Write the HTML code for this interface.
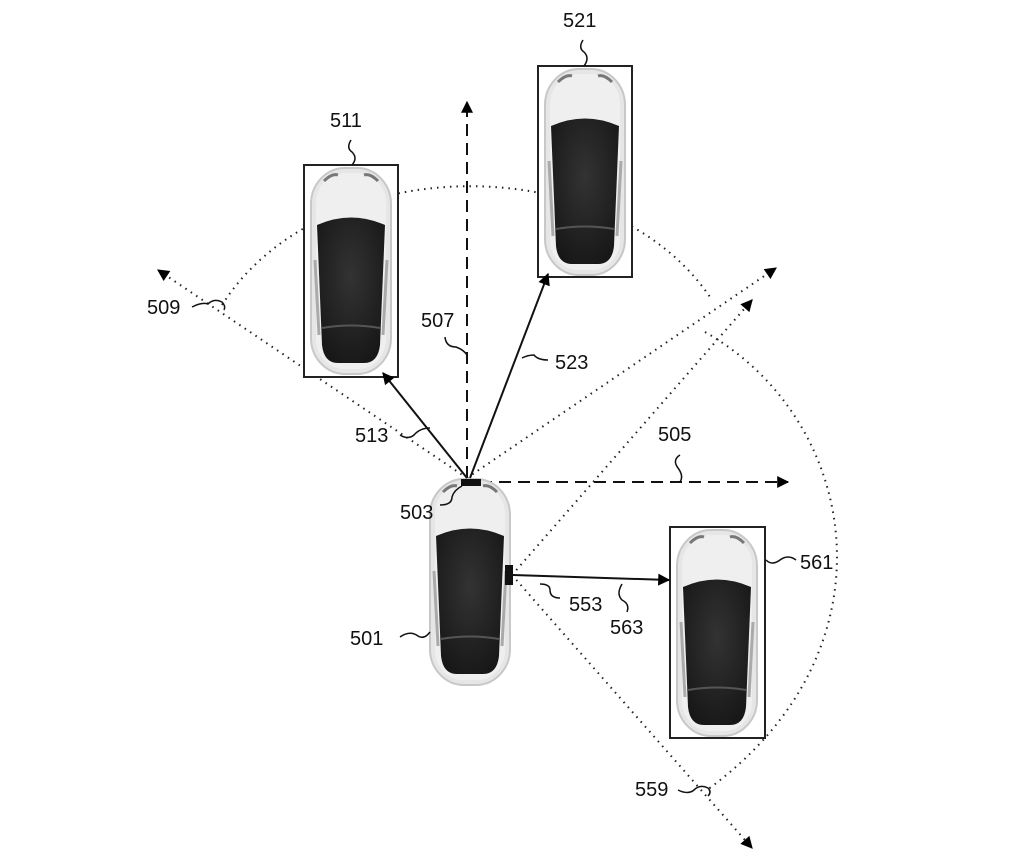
<!DOCTYPE html>
<html><head><meta charset="utf-8"><style>
html,body{margin:0;padding:0;background:#fff}
svg{display:block}
text{font-family:"Liberation Sans",sans-serif;font-size:20px;fill:#111}
</style></head><body>
<svg width="1015" height="863" viewBox="0 0 1015 863" xmlns="http://www.w3.org/2000/svg">
<defs>
<marker id="ah2" viewBox="0 0 10 10" refX="9" refY="5" markerWidth="16" markerHeight="12" orient="auto" markerUnits="userSpaceOnUse"><path d="M0,0 L10,5 L0,10 z" fill="#000"/></marker>
<radialGradient id="cab" cx="0.5" cy="0.4" r="0.7"><stop offset="0" stop-color="#333"/><stop offset="1" stop-color="#151515"/></radialGradient>
<g id="car">
<rect x="7" y="3" width="80" height="206" rx="34" ry="36" fill="#e6e6e6" stroke="#c8c8c8" stroke-width="2"/>
<rect x="12" y="8" width="70" height="196" rx="28" ry="30" fill="#efefef"/>
<path d="M20,16 Q28,8 34,10" stroke="#777" stroke-width="3" fill="none"/>
<path d="M74,16 Q66,8 60,10" stroke="#777" stroke-width="3" fill="none"/>
<path d="M13,60 Q47,45 81,60 L76,180 Q74,198 60,198 L34,198 Q20,198 18,180 Z" fill="url(#cab)"/>
<path d="M18,163 Q47,158 76,163" stroke="#555" stroke-width="2" fill="none"/>
<path d="M11,95 L15,170" stroke="#aaa" stroke-width="3"/>
<path d="M83,95 L79,170" stroke="#aaa" stroke-width="3"/>
</g>
</defs>

<path d="M222,305 C320,150 610,145 712,300" fill="none" stroke="#222" stroke-width="2" stroke-dasharray="1.5,5"/>
<path d="M705,332 C860,420 900,650 707,790" fill="none" stroke="#222" stroke-width="2" stroke-dasharray="1.5,5"/>

<line x1="467" y1="478" x2="158" y2="270" stroke="#222" stroke-width="2" stroke-dasharray="1.5,5" marker-end="url(#ah2)"/>
<line x1="467" y1="478" x2="776" y2="268" stroke="#222" stroke-width="2" stroke-dasharray="1.5,5" marker-end="url(#ah2)"/>
<line x1="512" y1="575" x2="752" y2="300" stroke="#222" stroke-width="2" stroke-dasharray="1.5,5" marker-end="url(#ah2)"/>
<line x1="512" y1="575" x2="752" y2="848" stroke="#222" stroke-width="2" stroke-dasharray="1.5,5" marker-end="url(#ah2)"/>

<line x1="467" y1="478" x2="467" y2="102" stroke="#111" stroke-width="2" stroke-dasharray="12,7" marker-end="url(#ah2)"/>
<line x1="480" y1="482" x2="788" y2="482" stroke="#111" stroke-width="2" stroke-dasharray="12,7" marker-end="url(#ah2)"/>

<rect x="304" y="165" width="94" height="212" fill="#fff" stroke="#222" stroke-width="2"/>
<use href="#car" x="304" y="165"/>
<rect x="538" y="66" width="94" height="211" fill="#fff" stroke="#222" stroke-width="2"/>
<use href="#car" x="538" y="66"/>
<rect x="670" y="527" width="95" height="211" fill="#fff" stroke="#222" stroke-width="2"/>
<use href="#car" x="670" y="527"/>
<use href="#car" x="423" y="476"/>

<line x1="467" y1="478" x2="383" y2="373" stroke="#111" stroke-width="2" marker-end="url(#ah2)"/>
<line x1="470" y1="478" x2="548" y2="274" stroke="#111" stroke-width="2" marker-end="url(#ah2)"/>
<line x1="513" y1="575" x2="669" y2="580" stroke="#111" stroke-width="2" marker-end="url(#ah2)"/>

<rect x="461" y="479" width="20" height="7" fill="#111"/>
<rect x="505" y="565" width="8" height="20" fill="#111"/>

<g fill="none" stroke="#111" stroke-width="1.5">
<path d="M583,40 Q578,48 584,52 Q590,58 584,66"/>
<path d="M351,140 Q346,148 352,152 Q358,158 352,165"/>
<path d="M192,307 Q202,302 208,304 Q214,298 222,302 Q226,306 224,310"/>
<path d="M445,337 Q446,347 456,347 Q464,350 467,355"/>
<path d="M548,360 Q538,360 534,355 Q528,355 522,358"/>
<path d="M400,435 Q408,440 414,435 Q420,428 430,428"/>
<path d="M680,455 Q672,460 678,468 Q684,476 680,482"/>
<path d="M440,505 Q452,505 452,497 Q454,490 462,486"/>
<path d="M766,560 Q772,566 780,560 Q788,554 796,560"/>
<path d="M560,598 Q550,598 550,590 Q550,584 540,584"/>
<path d="M627,612 Q630,604 622,600 Q616,594 622,584"/>
<path d="M400,637 Q410,630 418,636 Q424,640 430,632"/>
<path d="M678,790 Q688,795 694,790 Q700,784 708,788 Q712,792 708,796"/>
</g>

<text x="563" y="27">521</text>
<text x="330" y="127">511</text>
<text x="147" y="314">509</text>
<text x="421" y="327">507</text>
<text x="555" y="369">523</text>
<text x="355" y="442">513</text>
<text x="658" y="441">505</text>
<text x="400" y="519">503</text>
<text x="800" y="569">561</text>
<text x="569" y="611">553</text>
<text x="610" y="634">563</text>
<text x="350" y="645">501</text>
<text x="635" y="796">559</text>
</svg>
</body></html>
